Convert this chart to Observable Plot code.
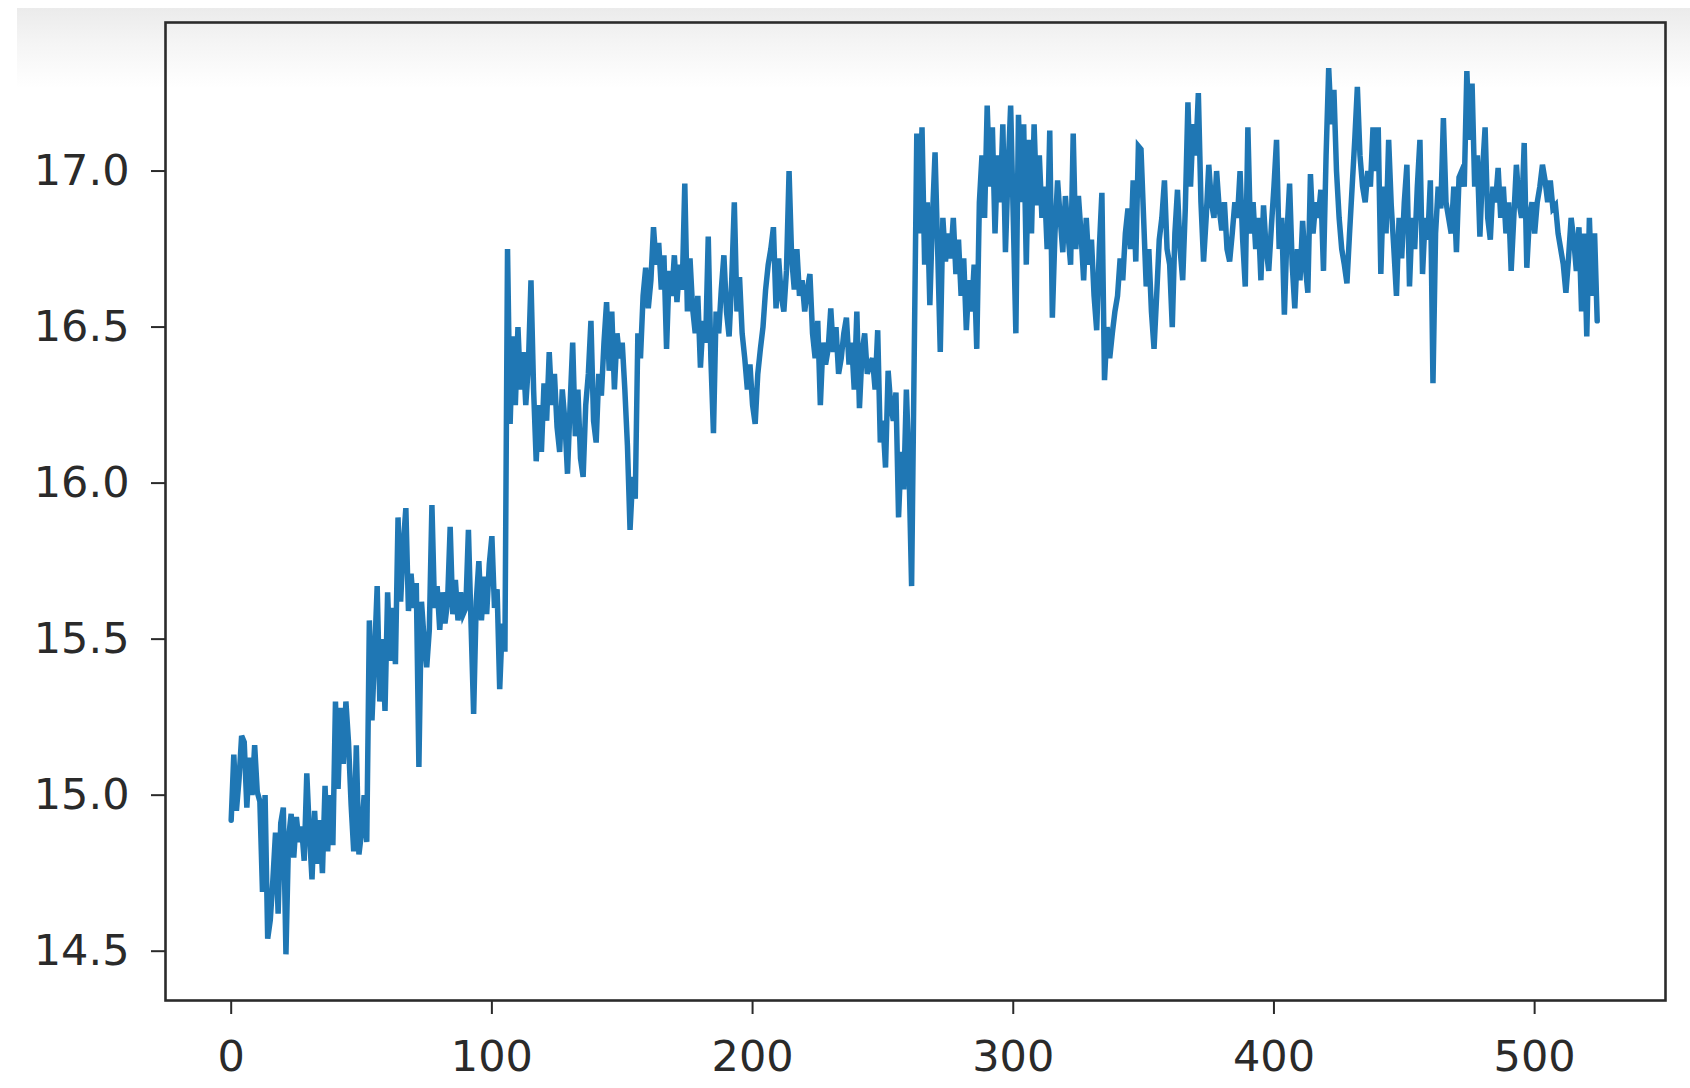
<!DOCTYPE html>
<html>
<head>
<meta charset="utf-8">
<script src="https://cdn.jsdelivr.net/npm/d3@7"></script>
<script src="https://cdn.jsdelivr.net/npm/@observablehq/plot@0.6"></script>
<style>
  html, body { margin: 0; padding: 0; background: #ffffff; }
  #wrap { position: relative; width: 1690px; height: 1088px; overflow: hidden; background: #ffffff; }
  #shade { position: absolute; left: 17px; top: 8px; width: 1673px; height: 80px;
           background: linear-gradient(to bottom, #ebebeb 0%, #f5f5f5 45%, #ffffff 100%); }
  #chart { position: absolute; left: 0; top: 0; }
</style>
</head>
<body>
<div id="wrap"><div id="shade"></div><div id="chart"></div></div>
<script>
// Series values, one per index 0..524
const values = [
  14.92, 15.13, 14.95, 15.05, 15.19, 15.17, 14.96, 15.12, 15.00, 15.16,
  15.01, 14.98, 14.69, 15.00, 14.54, 14.60, 14.73, 14.88, 14.62, 14.91,
  14.96, 14.49, 14.86, 14.94, 14.80, 14.93, 14.85, 14.90, 14.79, 15.07,
  14.88, 14.73, 14.95, 14.78, 14.92, 14.75, 15.03, 14.82, 15.00, 14.84,
  15.30, 15.02, 15.28, 15.10, 15.30, 15.17, 14.97, 14.82, 15.16, 14.81,
  14.88, 15.00, 14.85, 15.56, 15.24, 15.45, 15.67, 15.30, 15.50, 15.27,
  15.65, 15.43, 15.60, 15.42, 15.89, 15.62, 15.80, 15.92, 15.59, 15.71,
  15.60, 15.68, 15.09, 15.62, 15.50, 15.41, 15.53, 15.93, 15.60, 15.67,
  15.53, 15.65, 15.55, 15.62, 15.86, 15.58, 15.69, 15.56, 15.65, 15.58,
  15.60, 15.85, 15.55, 15.26, 15.62, 15.75, 15.56, 15.70, 15.58, 15.74,
  15.83, 15.60, 15.66, 15.34, 15.55, 15.46, 16.75, 16.19, 16.47, 16.25,
  16.50, 16.30, 16.42, 16.25, 16.38, 16.65, 16.30, 16.07, 16.25, 16.10,
  16.32, 16.20, 16.42, 16.25, 16.35, 16.18, 16.10, 16.30, 16.20, 16.03,
  16.25, 16.45, 16.15, 16.30, 16.08, 16.02, 16.25, 16.35, 16.52, 16.20,
  16.13, 16.35, 16.28, 16.45, 16.58, 16.36, 16.55, 16.30, 16.48, 16.40,
  16.45, 16.30, 16.12, 15.85, 16.02, 15.95, 16.48, 16.40, 16.60, 16.69,
  16.56, 16.65, 16.82, 16.70, 16.77, 16.62, 16.73, 16.43, 16.68, 16.60,
  16.73, 16.58, 16.70, 16.62, 16.96, 16.55, 16.72, 16.56, 16.48, 16.60,
  16.37, 16.52, 16.45, 16.79, 16.40, 16.16, 16.55, 16.48, 16.62, 16.73,
  16.55, 16.47, 16.65, 16.90, 16.55, 16.66, 16.48, 16.40, 16.30, 16.38,
  16.25, 16.19, 16.35, 16.43, 16.50, 16.62, 16.70, 16.75, 16.82, 16.56,
  16.72, 16.60, 16.55, 16.68, 17.00, 16.72, 16.62, 16.75, 16.60, 16.65,
  16.55, 16.62, 16.67, 16.48, 16.40, 16.52, 16.25, 16.45, 16.38, 16.43,
  16.56, 16.42, 16.50, 16.35, 16.40, 16.48, 16.53, 16.38, 16.45, 16.30,
  16.55, 16.24, 16.42, 16.48, 16.35, 16.38, 16.40, 16.30, 16.49, 16.13,
  16.20, 16.05, 16.36, 16.25, 16.20, 16.29, 15.89, 16.10, 15.98, 16.30,
  16.05, 15.67, 16.40, 17.12, 16.80, 17.14, 16.70, 16.90, 16.57, 16.85,
  17.06, 16.75, 16.42, 16.85, 16.71, 16.80, 16.72, 16.85, 16.67, 16.78,
  16.60, 16.72, 16.49, 16.65, 16.55, 16.70, 16.43, 16.90, 17.05, 16.85,
  17.21, 16.95, 17.14, 16.80, 17.05, 16.90, 17.15, 16.74, 17.00, 17.21,
  16.85, 16.48, 17.18, 16.90, 17.15, 16.70, 17.10, 16.80, 17.15, 16.89,
  17.05, 16.85, 16.95, 16.75, 17.13, 16.53, 16.80, 16.97, 16.85, 16.74,
  16.92, 16.80, 16.70, 17.12, 16.75, 16.92, 16.80, 16.65, 16.85, 16.70,
  16.78, 16.60, 16.49, 16.75, 16.93, 16.33, 16.50, 16.40, 16.48, 16.55,
  16.60, 16.72, 16.65, 16.80, 16.88, 16.75, 16.97, 16.71, 17.08, 17.07,
  16.85, 16.63, 16.75, 16.55, 16.43, 16.60, 16.78, 16.85, 16.97, 16.75,
  16.70, 16.50, 16.80, 16.94, 16.75, 16.65, 16.88, 17.22, 16.95, 17.15,
  17.05, 17.25, 16.90, 16.71, 16.85, 17.02, 16.90, 16.85, 17.00, 16.88,
  16.81, 16.90, 16.75, 16.71, 16.80, 16.90, 16.85, 17.00, 16.78, 16.63,
  17.14, 16.80, 16.90, 16.75, 16.85, 16.65, 16.89, 16.75, 16.68, 16.82,
  16.95, 17.10, 16.75, 16.85, 16.54, 16.80, 16.96, 16.70, 16.56, 16.75,
  16.65, 16.84, 16.70, 16.61, 16.99, 16.80, 16.90, 16.85, 16.94, 16.68,
  17.05, 17.33, 17.15, 17.26, 17.00, 16.85, 16.75, 16.70, 16.64, 16.80,
  16.95, 17.10, 17.27, 17.05, 16.95, 16.90, 17.00, 16.95, 17.14, 17.00,
  17.14, 16.67, 16.95, 16.80, 17.10, 16.89, 16.75, 16.60, 16.85, 16.72,
  16.90, 17.02, 16.63, 16.85, 16.75, 16.95, 17.10, 16.67, 16.85, 16.78,
  16.97, 16.32, 16.80, 16.95, 16.88, 17.17, 16.90, 16.85, 16.80, 16.95,
  16.74, 16.98, 17.00, 16.95, 17.32, 17.10, 17.28, 16.95, 17.05, 16.79,
  17.00, 17.14, 16.85, 16.78, 16.95, 16.90, 17.01, 16.85, 16.95, 16.80,
  16.90, 16.68, 16.85, 17.02, 16.90, 16.85, 17.09, 16.69, 16.85, 16.90,
  16.80, 16.90, 16.95, 17.02, 16.97, 16.90, 16.97, 16.88, 16.89, 16.80,
  16.75, 16.70, 16.61, 16.72, 16.85, 16.78, 16.68, 16.82, 16.55, 16.80,
  16.47, 16.85, 16.60, 16.80, 16.52
];
const xTicks = [0, 100, 200, 300, 400, 500];
const yTicks = [14.5, 15.0, 15.5, 16.0, 16.5, 17.0];
const xTickLabels = ["0", "100", "200", "300", "400", "500"];
const yTickLabels = ["14.5", "15.0", "15.5", "16.0", "16.5", "17.0"];

const chart = Plot.plot({
  width: 1690,
  height: 1088,
  marginLeft: 165,
  marginRight: 25,
  marginTop: 22,
  marginBottom: 88,
  style: {background: "transparent", fontFamily: "'DejaVu Sans', sans-serif", fontSize: "43px", color: "#2a2a2a"},
  x: {domain: [-25.2, 550.2]},
  y: {domain: [14.342, 17.476]},
  marks: [
    Plot.axisX({ticks: xTicks, tickFormat: (d) => xTickLabels[xTicks.indexOf(d)], tickSize: 14, tickPadding: 26, fontSize: 43, strokeWidth: 2, label: null}),
    Plot.axisY({ticks: yTicks, tickFormat: (d) => yTickLabels[yTicks.indexOf(d)], tickSize: 14, tickPadding: 22, fontSize: 43, strokeWidth: 2, label: null}),
    Plot.lineY(values, {x: (d, i) => i, y: (d) => d, stroke: "#1f77b4", strokeWidth: 5.5, strokeLinejoin: "miter", strokeMiterlimit: 4}),
    Plot.frame({stroke: "#2b2b2b", strokeWidth: 2.6})
  ]
});
document.getElementById("chart").appendChild(chart);
</script>
</body>
</html>
